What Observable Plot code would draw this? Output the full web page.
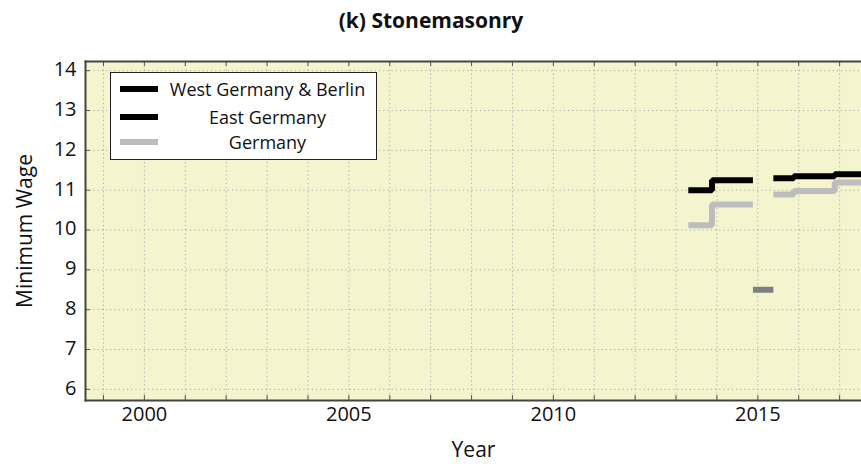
<!DOCTYPE html>
<html>
<head>
<meta charset="utf-8">
<script src="https://cdn.jsdelivr.net/npm/d3@7"></script>
<script src="https://cdn.jsdelivr.net/npm/@observablehq/plot@0.6"></script>
<style>
  html, body { margin: 0; padding: 0; background: #fff; }
  #wrap { position: relative; width: 861px; height: 464px; font-family: "Open Sans", sans-serif; }
  #wrap svg { position: absolute; left: 0; top: 0; }
  #legend { position: absolute; left: 110px; top: 72px; width: 265px; height: 86px; border: 1px solid #222; background: #fff; }
  .row { position: absolute; left: 0; width: 265px; height: 24px; }
  .sw { position: absolute; left: 9px; top: 9px; width: 38px; height: 6px; }
  .lab { position: absolute; left: 48px; right: 0; top: 0; text-align: center; font-size: 18px; line-height: 24px; color: #111; }
</style>
</head>
<body>
<div id="wrap"></div>
<script>
// ---- data ----
const title = "(k) Stonemasonry";
const xLabel = "Year";
const yLabel = "Minimum Wage";
const seriesNames = ["West Germany & Berlin", "East Germany", "Germany"];
const seriesColors = ["#000000", "#000000", "#bdbdbd"];

// step breakpoints (NaN = gap)
const stepYears     = [2013.3, 2013.88, 2014.88, NaN, 2015.38, 2015.88, 2016.88, 2017.6];
const westBerlin    = [11.00, 11.25, 11.25, NaN, 11.30, 11.35, 11.40, 11.40];
const germany       = [10.12, 10.64, 10.64, NaN, 10.89, 10.98, 11.19, 11.19];
const generalYears  = [2014.88, 2015.38];
const generalWage   = [8.50, 8.50];

const xTickLabels = [2000, 2005, 2010, 2015];
const yTickLabels = [6, 7, 8, 9, 10, 11, 12, 13, 14];
const gridYears = d3.range(1999, 2018);
const xDomain = [1998.56, 2017.535];
const yDomain = [5.72, 14.23];

// ---- build tables ----
const westData = stepYears.map((x, i) => ({x, y: westBerlin[i]}));
const germanyData = stepYears.map((x, i) => ({x, y: germany[i]}));
const generalData = generalYears.map((x, i) => ({x, y: generalWage[i]}));

const W = 861, H = 464, mL = 85, mR = 0, mT = 61, mB = 64;
const plotW = W - mL - mR, plotH = H - mT - mB;
const gridStyle = {stroke: "#a8a8a8", strokeOpacity: 1, strokeWidth: 1, strokeDasharray: "1.2,3"};
const lineStyle = {x: "x", y: "y", strokeWidth: 6, curve: "step-after", strokeLinecap: "butt", strokeLinejoin: "miter", clip: "frame"};
const tickFont = 20;

const chart = Plot.plot({
  width: W, height: H,
  marginLeft: mL, marginRight: mR, marginTop: mT, marginBottom: mB,
  style: {fontFamily: "'Open Sans', sans-serif", background: "transparent", color: "#111"},
  x: {domain: xDomain, axis: null},
  y: {domain: yDomain, axis: null},
  marks: [
    Plot.frame({fill: "#f4f5cf", stroke: null}),
    Plot.gridX(gridYears, gridStyle),
    Plot.gridY(yTickLabels, gridStyle),
    // inside tick marks
    Plot.tickX(gridYears, {x: d => d, insetTop: plotH - 5, stroke: "#555", strokeWidth: 1}),
    Plot.tickX(gridYears, {x: d => d, insetBottom: plotH - 5, stroke: "#555", strokeWidth: 1}),
    Plot.tickY(yTickLabels, {y: d => d, insetRight: plotW - 5, stroke: "#555", strokeWidth: 1}),
    // tick labels
    Plot.text(xTickLabels, {x: d => d, text: d => String(d), frameAnchor: "bottom", lineAnchor: "top", dy: 6, fontSize: tickFont, fill: "#111"}),
    Plot.text(yTickLabels, {y: d => d, text: d => String(d), frameAnchor: "left", textAnchor: "end", lineAnchor: "middle", dx: -9, dy: -1, fontSize: tickFont, fill: "#111"}),
    Plot.line(generalData, {...lineStyle, stroke: "#808080"}),
    Plot.line(germanyData, {...lineStyle, stroke: seriesColors[2]}),
    Plot.line(westData, {...lineStyle, stroke: seriesColors[0]}),
    Plot.frame({anchor: "top", stroke: "#444", strokeWidth: 2}),
    Plot.frame({anchor: "bottom", stroke: "#444", strokeWidth: 2}),
    Plot.frame({anchor: "left", stroke: "#444", strokeWidth: 2}),
    Plot.text([title], {frameAnchor: "top", textAnchor: "middle", dx: (W / 2) - (mL + plotW / 2), dy: -40, fontSize: 21, fontWeight: "bold", lineAnchor: "middle"}),
    Plot.text([xLabel], {frameAnchor: "bottom", textAnchor: "middle", dy: 50, fontSize: 21, lineAnchor: "middle"}),
    Plot.text([yLabel], {frameAnchor: "left", textAnchor: "middle", dx: -60, rotate: -90, fontSize: 21, lineAnchor: "middle"})
  ]
});

const wrap = document.getElementById("wrap");
wrap.appendChild(chart);

// legend
const legend = document.createElement("div");
legend.id = "legend";
const rowTops = [4, 32, 57];
seriesNames.forEach((name, i) => {
  const row = document.createElement("div");
  row.className = "row";
  row.style.top = rowTops[i] + "px";
  const sw = document.createElement("div");
  sw.className = "sw";
  sw.style.background = seriesColors[i];
  const lab = document.createElement("div");
  lab.className = "lab";
  lab.textContent = name;
  row.appendChild(sw);
  row.appendChild(lab);
  legend.appendChild(row);
});
wrap.appendChild(legend);
</script>
</body>
</html>
